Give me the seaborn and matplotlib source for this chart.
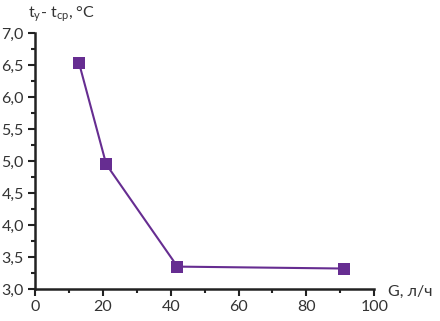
import matplotlib
matplotlib.use("Agg")
import matplotlib.pyplot as plt
import matplotlib.ticker as mticker
import pandas as pd
import seaborn as sns

# data
flow = [13, 21, 42, 91]          # G, l/h
dtemp = [6.53, 4.95, 3.35, 3.32]  # t_y - t_cp, deg C

xticks = [0, 20, 40, 60, 80, 100]
yticks = [3.0, 3.5, 4.0, 4.5, 5.0, 5.5, 6.0, 6.5, 7.0]

sns.set_theme(style="ticks")
plt.rcParams['font.family'] = ['Lato', 'DejaVu Sans']
plt.rcParams['mathtext.fontset'] = 'custom'
plt.rcParams['mathtext.rm'] = 'Lato'

df = pd.DataFrame({'G': flow, 'dt': dtemp})
purple = '#662d91'

fig = plt.figure(figsize=(4.40, 3.21), dpi=100)
ax = fig.add_axes([0.0795, 0.0997, 0.771, 0.797])
sns.lineplot(data=df, x='G', y='dt', ax=ax, color=purple, lw=1.5,
             marker='s', markersize=8, markeredgewidth=0, markerfacecolor=purple)

ax.set_xlim(0, 100)
ax.set_ylim(3.0, 7.0)
ax.set_xticks(xticks)
ax.set_yticks(yticks)
ax.set_yticklabels([f"{v:.1f}".replace('.', ',') for v in yticks])
ax.xaxis.set_minor_locator(mticker.MultipleLocator(10))
ax.yaxis.set_minor_locator(mticker.MultipleLocator(0.25))
ax.tick_params(which='major', length=5, width=1.5, color='#222222',
               labelsize=11.5, labelcolor='#333333', pad=3)
ax.tick_params(which='minor', length=3, width=1.5, color='#222222')
for s in ['left', 'bottom']:
    ax.spines[s].set_linewidth(1.8)
    ax.spines[s].set_color('#222222')
sns.despine(ax=ax)
ax.set_xlabel('')
ax.set_ylabel('')

fig.text(0.882, 0.09, 'G, л/ч', fontsize=11.5, color='#333333', ha='left', va='center')
fig.text(0.063, 0.956, r't$_{\mathrm{у}}$- t$_{\mathrm{ср}}$, °C', fontsize=11.5,
         color='#333333', ha='left', va='center')

fig.savefig('out.png', dpi=100)
